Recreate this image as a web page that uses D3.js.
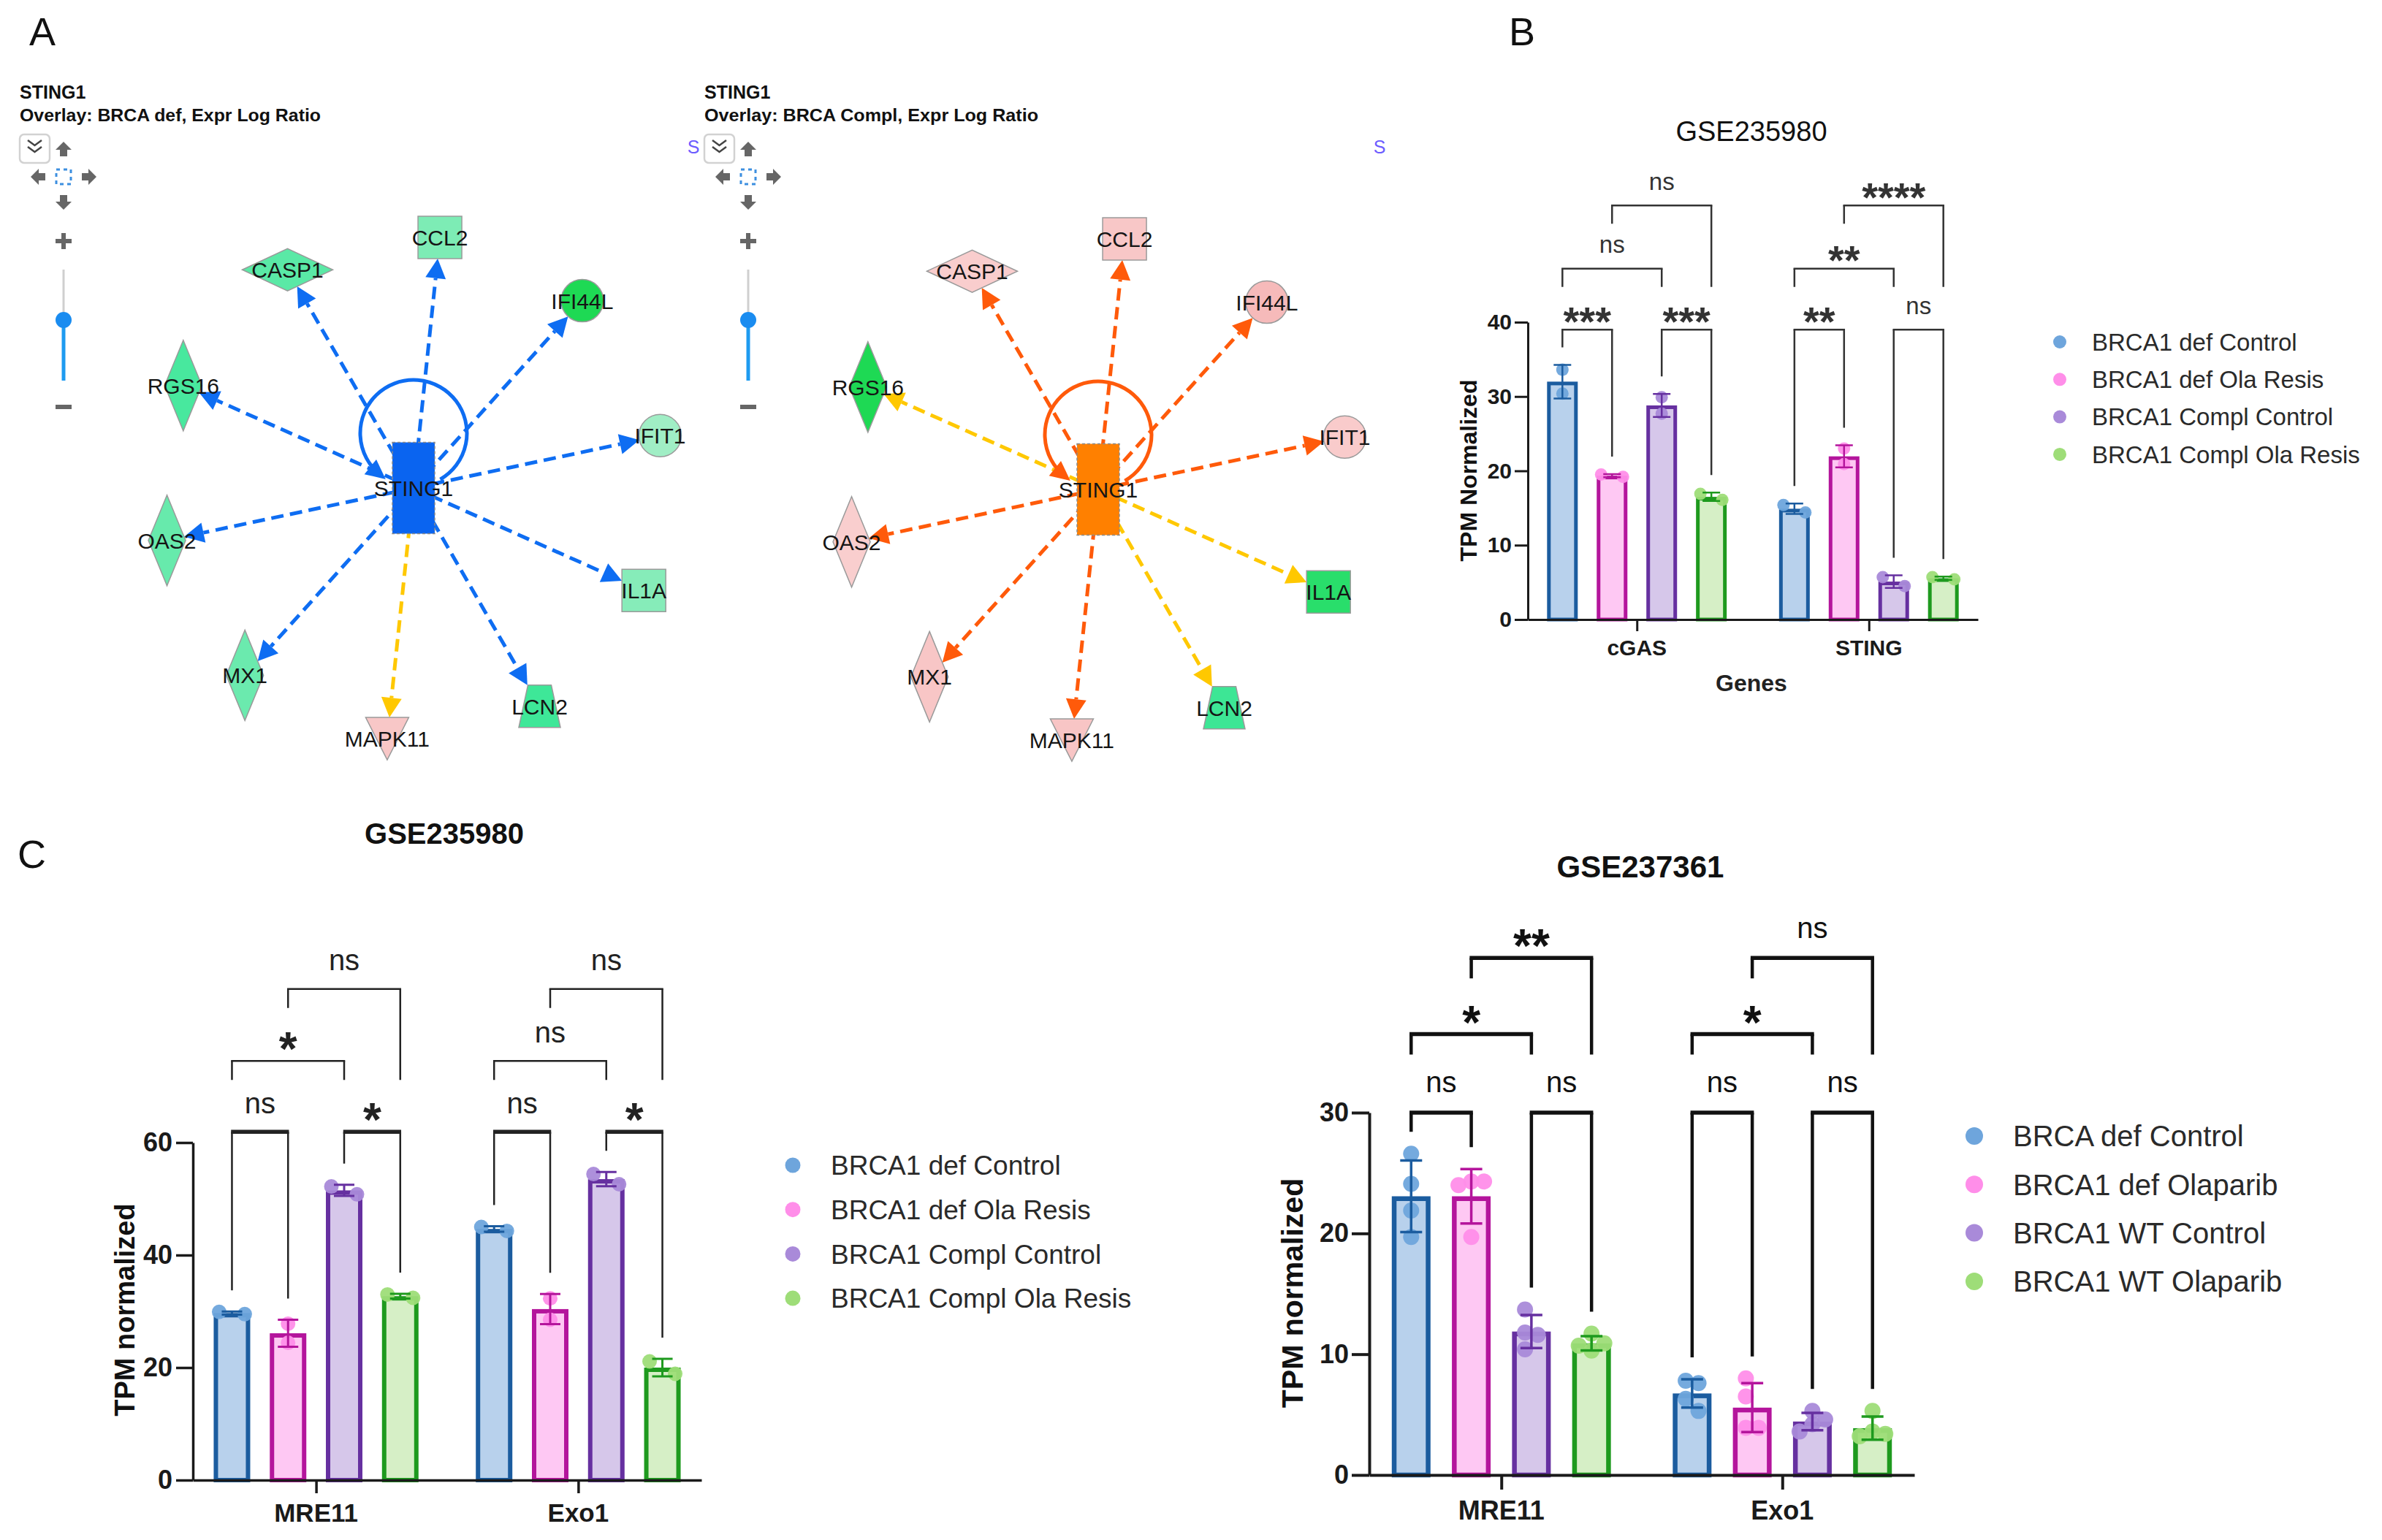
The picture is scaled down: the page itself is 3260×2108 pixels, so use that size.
<!DOCTYPE html>
<html>
<head>
<meta charset="utf-8">
<script src="https://cdn.jsdelivr.net/npm/d3@7/dist/d3.min.js"></script>
<style>
html,body{margin:0;padding:0;background:#fff;}
svg{display:block;}
</style>
</head>
<body>
<svg id="fig" width="3260" height="2108" xmlns="http://www.w3.org/2000/svg"></svg>
<script>
// ================= DATA =================
// Panel A : STING1 network (targets clockwise, starting from IFIT1)
const netHub = "STING1";
const netTargets = ["IFIT1","IL1A","LCN2","MAPK11","MX1","OAS2","RGS16","CASP1","CCL2","IFI44L"];
const netShapes  = ["circle","square","trapezoid","triangle","diamondV","diamondV","diamondV","diamondH","square","circle"];
const netTitles   = ["STING1","STING1"];
const netOverlays = ["Overlay: BRCA def, Expr Log Ratio","Overlay: BRCA Compl, Expr Log Ratio"];
const netHubState = [-1, 1];                 // -1 predicted inhibited, +1 predicted activated
const defLogRatio   = [-0.4,-0.7,-1.55, 0.9,-1.0,-1.05,-1.4,-1.2,-0.8,-3.0];
const complLogRatio = [ 0.7,-2.5,-1.6, 1.0, 0.95, 0.5,-3.0, 0.6, 0.9, 1.6];

// Panel B : GSE235980 cGAS / STING
const bSeries = ["BRCA1 def Control","BRCA1 def Ola Resis","BRCA1 Compl Control","BRCA1 Compl Ola Resis"];
const bGenes  = ["cGAS","STING"];
const bCgas   = [[33.6,30.4],[19.5,19.2],[29.9,27.7],[16.1,16.9]];
const bSting  = [[14.4,15.4],[23.0,20.9],[4.5,5.7],[5.4,5.7]];
const bTicks  = [0,10,20,30,40];
const bLevels = [39.0, 47.2, 55.7];
const bSig = [
  {g:0,a:0,b:1,lvl:0,label:"***"},{g:0,a:2,b:3,lvl:0,label:"***"},
  {g:0,a:0,b:2,lvl:1,label:"ns"}, {g:0,a:1,b:3,lvl:2,label:"ns"},
  {g:1,a:0,b:1,lvl:0,label:"**"}, {g:1,a:2,b:3,lvl:0,label:"ns"},
  {g:1,a:0,b:2,lvl:1,label:"**"}, {g:1,a:1,b:3,lvl:2,label:"****"}
];

// Panel C left : GSE235980 MRE11 / Exo1
const cSeries = ["BRCA1 def Control","BRCA1 def Ola Resis","BRCA1 Compl Control","BRCA1 Compl Ola Resis"];
const cGenes  = ["MRE11","Exo1"];
const cMre11  = [[29.9,29.5],[27.8,24.4],[50.8,52.2],[32.4,33.0]];
const cExo1   = [[44.3,45.0],[32.3,28.5],[52.6,54.4],[18.9,21.1]];
const cTicks  = [0,20,40,60];
const cLevels = [61.9, 74.5, 87.3];
const cSig = [
  {g:0,a:0,b:1,lvl:0,label:"ns"},{g:0,a:2,b:3,lvl:0,label:"*"},
  {g:0,a:0,b:2,lvl:1,label:"*"}, {g:0,a:1,b:3,lvl:2,label:"ns"},
  {g:1,a:0,b:1,lvl:0,label:"ns"},{g:1,a:2,b:3,lvl:0,label:"*"},
  {g:1,a:0,b:2,lvl:1,label:"ns"},{g:1,a:1,b:3,lvl:2,label:"ns"}
];

// Panel C right : GSE237361 MRE11 / Exo1
const dSeries = ["BRCA def Control","BRCA1 def Olaparib","BRCA1 WT Control","BRCA1 WT Olaparib"];
const dGenes  = ["MRE11","Exo1"];
const dMre11  = [[26.6,24.1,21.9,19.7],[24.3,24.3,24.0,19.7],[13.7,11.8,11.6,10.4],[11.7,10.9,10.7,10.3]];
const dExo1   = [[7.8,7.6,6.3,5.3],[8.0,6.5,3.9,3.9],[5.3,4.6,4.2,3.6],[5.3,3.6,3.4,3.2]];
const dTicks  = [0,10,20,30];
const dLevels = [30.0, 36.5, 42.8];
const dSig = [
  {g:0,a:0,b:1,lvl:0,label:"ns"},{g:0,a:2,b:3,lvl:0,label:"ns"},
  {g:0,a:0,b:2,lvl:1,label:"*"}, {g:0,a:1,b:3,lvl:2,label:"**"},
  {g:1,a:0,b:1,lvl:0,label:"ns"},{g:1,a:2,b:3,lvl:0,label:"ns"},
  {g:1,a:0,b:2,lvl:1,label:"*"}, {g:1,a:1,b:3,lvl:2,label:"ns"}
];

// ================= STYLE =================
const FONT = "'Liberation Sans', Arial, Helvetica, sans-serif";
const STROKE = ["#1b5c9f","#b4159c","#6630a0","#1e9a1e"];
const FILL   = ["#b8d1ec","#fec8f3","#d6c7ea","#d6efc6"];
const DOT    = ["#6ea5dc","#ff8ee9","#a98ad9","#9edd78"];

const svg = d3.select("#fig");
svg.append("rect").attr("width",3260).attr("height",2108).attr("fill","#fff");

// panel letters
[["A",40,62],["B",2065,62],["C",24,1188]].forEach(([t,x,y])=>{
  svg.append("text").attr("x",x).attr("y",y).text(t)
    .attr("font-family",FONT).attr("font-size",54).attr("fill","#111");
});

// ================= NETWORK =================
const ratioColor = d3.scaleLinear()
  .domain([-3,-1.5,-0.3,0.3,2])
  .range(["#1ed954","#3fe79a","#a9efc9","#fad2d2","#f5b3b3"]).clamp(true);
const hubColor  = d3.scaleOrdinal().domain([-1,1]).range(["#0a64f0","#ff8000"]);
const edgeColor = d3.scaleOrdinal().domain(["inhib","activ","incons"]).range(["#0e6df2","#ff5a0a","#ffc800"]);

const SHAPE = {
  circle:   {path:"M29,0A29,29 0 1,1 -29,0A29,29 0 1,1 29,0Z", hit:(ax,ay)=>29/Math.hypot(ax,ay)},
  square:   {path:"M-30,-29H30V29H-30Z", hit:(ax,ay)=>Math.min(30/ax,29/ay)},
  trapezoid:{path:"M-16,-29H16L28.5,29H-28.5Z", hit:(ax,ay)=>Math.min(22/ax,29/ay)},
  triangle: {path:"M-29.5,-29H29.5L0,29Z", hit:(ax,ay)=>Math.min(20/ax,29/ay)},
  diamondV: {path:"M0,-62L25.5,0L0,62L-25.5,0Z", hit:(ax,ay)=>1/(ax/25.5+ay/62)},
  diamondH: {path:"M-62,0L0,-29L62,0L0,29Z", hit:(ax,ay)=>1/(ax/62+ay/29)}
};

function drawControls(ox, withS){
  const c = svg.append("g").attr("transform",`translate(${ox},0)`);
  c.append("rect").attr("x",27).attr("y",184).attr("width",41).attr("height",39).attr("rx",6)
    .attr("fill","#fff").attr("stroke","#d2d2d2").attr("stroke-width",2.5);
  c.append("path").attr("d","M38,192 L47.5,199 L57,192 M38,201 L47.5,208 L57,201")
    .attr("fill","none").attr("stroke","#444").attr("stroke-width",2.5);
  const arrow = "M0,-11 L11,0 L5,0 L5,9 L-5,9 L-5,0 L-11,0 Z";
  [[87,205,0],[121,242,90],[87,276,180],[53,242,270]].forEach(([x,y,r])=>{
    c.append("path").attr("d",arrow).attr("transform",`translate(${x},${y}) rotate(${r})`).attr("fill","#666");
  });
  c.append("rect").attr("x",77).attr("y",232).attr("width",20).attr("height",20)
    .attr("fill","none").attr("stroke","#3d8fe0").attr("stroke-width",3).attr("stroke-dasharray","5,5");
  c.append("path").attr("d","M76,330H98M87,319V341").attr("stroke","#666").attr("stroke-width",6);
  c.append("line").attr("x1",87).attr("x2",87).attr("y1",369).attr("y2",430).attr("stroke","#cfcfcf").attr("stroke-width",3);
  c.append("line").attr("x1",87).attr("x2",87).attr("y1",438).attr("y2",521).attr("stroke","#1e9bf0").attr("stroke-width",5);
  c.append("circle").attr("cx",87).attr("cy",438).attr("r",11).attr("fill","#1a8cf0");
  c.append("path").attr("d","M76,557H98").attr("stroke","#666").attr("stroke-width",6);
  if (withS){
    [[12,210],[951,210]].forEach(([x,y])=>{
      c.append("text").attr("x",x).attr("y",y).attr("text-anchor","middle").text("S")
       .attr("font-family",FONT).attr("font-size",25).attr("fill","#6c5cff");
    });
  }
}

function drawNetwork(ox, hx, hy, idx, ratios){
  const g = svg.append("g");
  const state = netHubState[idx];
  // titles
  g.append("text").attr("x",27+ox).attr("y",135).text(netTitles[idx])
    .attr("font-family",FONT).attr("font-weight","bold").attr("font-size",25).attr("fill","#111");
  g.append("text").attr("x",27+ox).attr("y",166).text(netOverlays[idx])
    .attr("font-family",FONT).attr("font-weight","bold").attr("font-size",24).attr("fill","#111")
    .attr("textLength", idx===0?412:457).attr("lengthAdjust","spacingAndGlyphs");
  drawControls(ox, idx===1);

  const ang = d3.scaleLinear().domain([0, netTargets.length]).range([-12, 348]);
  const rad = d3.scaleLinear().domain([0,1]).range([0,345]);
  const nodes = netTargets.map((name,i)=>{
    const a = ang(i)*Math.PI/180;
    return {name, shape:netShapes[i], v:ratios[i], x:hx+rad(1)*Math.cos(a), y:hy+rad(1)*Math.sin(a)};
  });
  const arrowLen = 27, arrowHW = 14;
  // edges
  nodes.forEach(n=>{
    const dx = n.x-hx, dy = n.y-hy, L = Math.hypot(dx,dy);
    const t = SHAPE[n.shape].hit(Math.abs(dx),Math.abs(dy));
    const tip = [n.x-dx*t, n.y-dy*t];
    const ux = dx/L, uy = dy/L;
    const base = [tip[0]-ux*arrowLen, tip[1]-uy*arrowLen];
    const kind = (state*n.v>0) ? (state<0?"inhib":"activ") : "incons";
    const col = edgeColor(kind);
    g.append("line").attr("x1",hx).attr("y1",hy).attr("x2",base[0]).attr("y2",base[1])
      .attr("stroke",col).attr("stroke-width",5).attr("stroke-dasharray","17,9");
    g.append("path").attr("d",`M${tip[0]},${tip[1]}L${base[0]-uy*arrowHW},${base[1]+ux*arrowHW}L${base[0]+uy*arrowHW},${base[1]-ux*arrowHW}Z`)
      .attr("fill",col);
  });
  // self loop
  const loopCol = edgeColor(state<0?"inhib":"activ");
  const lc=[hx,hy-75], lr=73, a0=60*Math.PI/180, a1=129*Math.PI/180;
  const p = d3.path();
  p.moveTo(lc[0]+lr*Math.cos(a0), lc[1]+lr*Math.sin(a0));
  p.arc(lc[0],lc[1],lr,a0,a1,true);
  g.append("path").attr("d",p.toString()).attr("fill","none").attr("stroke",loopCol).attr("stroke-width",5);
  const E=[lc[0]+lr*Math.cos(a1), lc[1]+lr*Math.sin(a1)], u=[Math.sin(a1),-Math.cos(a1)];
  const tp=[E[0]+u[0]*10,E[1]+u[1]*10], bs=[E[0]-u[0]*17,E[1]-u[1]*17];
  g.append("path").attr("d",`M${tp[0]},${tp[1]}L${bs[0]-u[1]*13},${bs[1]+u[0]*13}L${bs[0]+u[1]*13},${bs[1]-u[0]*13}Z`).attr("fill",loopCol);
  // target nodes
  nodes.forEach(n=>{
    g.append("path").attr("d",SHAPE[n.shape].path).attr("transform",`translate(${n.x},${n.y})`)
      .attr("fill",ratioColor(n.v)).attr("stroke","#9a9a9a").attr("stroke-width",1.5);
  });
  // hub
  g.append("rect").attr("x",hx-29).attr("y",hy-62.5).attr("width",58).attr("height",125)
    .attr("fill",hubColor(state)).attr("stroke","#8a8a8a").attr("stroke-width",1.5).attr("stroke-dasharray","4,3");
  // labels
  nodes.concat([{name:netHub,x:hx,y:hy}]).forEach(n=>{
    g.append("text").attr("x",n.x).attr("y",n.y+11).attr("text-anchor","middle").text(n.name)
      .attr("font-family",FONT).attr("font-size",30).attr("fill","#151515");
  });
}

drawNetwork(0, 566, 668, 0, defLogRatio);
drawNetwork(937, 1503, 670, 1, complLogRatio);

// ================= BAR CHARTS =================
function swarm(vals, y, step, thresh){
  const order = d3.range(vals.length).sort((a,b)=>vals[b]-vals[a]);
  const placed=[], off=new Array(vals.length);
  const cands=[0,step,-step,2*step,-2*step];
  order.forEach(i=>{
    const py=y(vals[i]);
    let best=null, bestD=-1;
    for(const c of cands){
      const md = placed.length? d3.min(placed,p=>Math.hypot(p.x-c,p.y-py)) : Infinity;
      if(md>=thresh){best=c;break;}
      if(md>bestD){bestD=md;best=c;}
    }
    off[i]=best; placed.push({x:best,y:py});
  });
  const ext=d3.extent(off), sh=(ext[0]+ext[1])/2;
  return off.map(o=>o-sh);
}

function drawBarChart(cfg, genes, seriesNames, values, ticks, sigs, levels){
  const g = svg.append("g");
  const y = d3.scaleLinear().domain([0,d3.max(ticks)]).range([cfg.y0,cfg.yTop]);
  const x = d3.scalePoint().domain(genes).range([cfg.xL,cfg.xR]).padding(0.47);
  const subStep = x.step()*0.214;
  const sub = d3.scaleLinear().domain([0,seriesNames.length-1]).range([-1.5*subStep,1.5*subStep]);

  const stats = [];
  genes.forEach((gn,gi)=>values[gi].forEach((pts,si)=>{
    const m=d3.mean(pts), sd=d3.deviation(pts);
    stats.push({gi,si,cx:x(gn)+sub(si),m,sd,pts,top:Math.max(d3.max(pts),m+sd)});
  }));
  const statOf=(gi,si)=>stats.find(s=>s.gi===gi&&s.si===si);

  // bars
  stats.forEach(s=>{
    const sw=cfg.barStroke;
    g.append("rect").attr("x",s.cx-cfg.barW/2+sw/2).attr("y",y(s.m)+sw/2)
      .attr("width",cfg.barW-sw).attr("height",cfg.y0-y(s.m)-sw/2)
      .attr("fill",FILL[s.si]).attr("stroke",STROKE[s.si]).attr("stroke-width",sw);
  });
  // points
  stats.forEach(s=>{
    const offs=swarm(s.pts,y,cfg.swarmStep,cfg.swarmThresh);
    s.pts.forEach((v,k)=>{
      g.append("circle").attr("cx",s.cx+offs[k]).attr("cy",y(v)).attr("r",cfg.dotR)
        .attr("fill",DOT[s.si]).attr("fill-opacity",0.95);
    });
  });
  // error bars (mean ± SD)
  stats.forEach(s=>{
    const col=STROKE[s.si], hi=y(s.m+s.sd), lo=y(s.m-s.sd), cw=cfg.capW/2;
    g.append("path").attr("d",`M${s.cx},${lo}V${hi}M${s.cx-cw},${hi}H${s.cx+cw}M${s.cx-cw},${lo}H${s.cx+cw}`)
      .attr("stroke",col).attr("stroke-width",cfg.errW).attr("fill","none");
  });
  // y axis
  const ya = g.append("g").attr("transform",`translate(${cfg.xL},0)`)
    .call(d3.axisLeft(y).tickValues(ticks).tickSize(cfg.tickLen).tickSizeOuter(0).tickPadding(cfg.tickPad));
  ya.attr("color","#1a1a1a");
  ya.selectAll("path,line").attr("stroke-width",cfg.axisW);
  ya.selectAll("text").attr("font-family",FONT).attr("font-size",cfg.tickFont).attr("font-weight","bold").attr("fill","#1a1a1a");
  // x axis
  const xa = g.append("g").attr("transform",`translate(0,${cfg.y0})`)
    .call(d3.axisBottom(x).tickSize(cfg.catTick).tickSizeOuter(0).tickFormat(""));
  xa.attr("color","#1a1a1a");
  xa.selectAll("path,line").attr("stroke-width",cfg.axisW);
  genes.forEach(gn=>{
    g.append("text").attr("x",x(gn)).attr("y",cfg.y0+cfg.catDy).attr("text-anchor","middle").text(gn)
      .attr("font-family",FONT).attr("font-weight","bold").attr("font-size",cfg.catFont).attr("fill","#1a1a1a");
  });
  // axis titles
  g.append("text").attr("transform",`translate(${cfg.yLabelX},${cfg.yLabelY}) rotate(-90)`)
    .attr("text-anchor","middle").text(cfg.yLabel)
    .attr("font-family",FONT).attr("font-weight","bold").attr("font-size",cfg.yLabelFont).attr("fill","#111");
  if(cfg.xLabel){
    g.append("text").attr("x",cfg.xLabelX).attr("y",cfg.xLabelY).attr("text-anchor","middle").text(cfg.xLabel)
      .attr("font-family",FONT).attr("font-weight","bold").attr("font-size",cfg.xLabelFont).attr("fill","#222");
  }
  // title
  g.append("text").attr("x",cfg.titleX).attr("y",cfg.titleY).attr("text-anchor","middle").text(cfg.title)
    .attr("font-family",FONT).attr("font-weight",cfg.titleWeight).attr("font-size",cfg.titleFont).attr("fill","#111");

  // significance brackets
  sigs.forEach(sg=>{
    const gx=x(genes[sg.g]);
    const xa_=gx+sub(sg.a), xb_=gx+sub(sg.b), yb=y(levels[sg.lvl]);
    let ya_, yb2;
    if(sg.lvl===0){ ya_=y(statOf(sg.g,sg.a).top)-cfg.legGap; yb2=y(statOf(sg.g,sg.b).top)-cfg.legGap; }
    else if(sg.lvl===1){ ya_=yb2=yb+cfg.legDrop; }
    else { ya_=yb+cfg.legDrop; yb2=y(levels[1])+cfg.legDrop; }
    g.append("path").attr("d",`M${xa_},${ya_}V${yb}M${xb_},${yb}V${yb2}`)
      .attr("stroke",cfg.brColor).attr("stroke-width",cfg.brW).attr("fill","none");
    g.append("line").attr("x1",xa_-cfg.brW/2).attr("x2",xb_+cfg.brW/2).attr("y1",yb).attr("y2",yb)
      .attr("stroke",cfg.brColor).attr("stroke-width",cfg.brTopW[sg.lvl]);
    const isStar = sg.label.indexOf("*")>=0;
    const fs = isStar?cfg.starFont:cfg.nsFont;
    const cy = isStar ? yb-cfg.starDy : yb-cfg.nsDy;
    const base = isStar ? cy+0.58*fs : cy+0.26*fs;
    g.append("text").attr("x",(xa_+xb_)/2).attr("y",base).attr("text-anchor","middle").text(sg.label)
      .attr("font-family",FONT).attr("font-weight",isStar?"bold":"normal").attr("font-size",fs).attr("fill",cfg.brColor);
  });

  // legend
  seriesNames.forEach((nm,i)=>{
    const ly=cfg.legY+i*cfg.legDy;
    g.append("circle").attr("cx",cfg.legX).attr("cy",ly).attr("r",cfg.legR).attr("fill",DOT[i]);
    g.append("text").attr("x",cfg.legX+cfg.legTx).attr("y",ly+0.36*cfg.legFont).text(nm)
      .attr("font-family",FONT).attr("font-size",cfg.legFont).attr("fill","#2a2a2a");
  });
}

drawBarChart({
  xL:2091,xR:2707,y0:848,yTop:441,barW:42,barStroke:5,axisW:3,tickLen:18,tickPad:4,tickFont:30,
  catTick:16,catDy:49,catFont:30,
  yLabel:"TPM Normalized",yLabelX:2021,yLabelY:644,yLabelFont:32,
  xLabel:"Genes",xLabelX:2397,xLabelY:946,xLabelFont:32,
  title:"GSE235980",titleX:2397,titleY:193,titleFont:38,titleWeight:"normal",
  dotR:8.5,swarmStep:30,swarmThresh:17,capW:24,errW:2.5,
  brColor:"#333",brW:2.5,brTopW:[2.5,2.5,2.5],legGap:24,legDrop:25,
  nsFont:33,starFont:56,nsDy:30,starDy:25,
  legX:2819,legY:468,legDy:51.3,legR:9,legFont:33,legTx:44
}, bGenes, bSeries, [bCgas,bSting], bTicks, bSig, bLevels);

drawBarChart({
  xL:264,xR:960,y0:2026,yTop:1564,barW:50,barStroke:6,axisW:3.5,tickLen:23,tickPad:5,tickFont:36,
  catTick:18,catDy:57,catFont:35,
  yLabel:"TPM normalized",yLabelX:184,yLabelY:1793,yLabelFont:38,
  title:"GSE235980",titleX:608,titleY:1155,titleFont:40,titleWeight:"bold",
  dotR:10,swarmStep:35,swarmThresh:20,capW:28,errW:3,
  brColor:"#222",brW:2.5,brTopW:[5.5,2.5,2.5],legGap:29,legDrop:26,
  nsFont:40,starFont:64,nsDy:36,starDy:31,
  legX:1085,legY:1595,legDy:60.7,legR:10.5,legFont:37,legTx:52
}, cGenes, cSeries, [cMre11,cExo1], cTicks, cSig, cLevels);

drawBarChart({
  xL:1874,xR:2620,y0:2019,yTop:1523,barW:53,barStroke:6.5,axisW:4,tickLen:24,tickPad:4,tickFont:36,
  catTick:20,catDy:61,catFont:36,
  yLabel:"TPM normalized",yLabelX:1783,yLabelY:1770,yLabelFont:41,
  title:"GSE237361",titleX:2245,titleY:1201,titleFont:42,titleWeight:"bold",
  dotR:11,swarmStep:17.5,swarmThresh:17,capW:30,errW:3.5,
  brColor:"#111",brW:4.5,brTopW:[5.5,5.5,5.5],legGap:30,legDrop:28,
  nsFont:40,starFont:64,nsDy:38,starDy:31,
  legX:2702,legY:1555,legDy:66.3,legR:12,legFont:40,legTx:53
}, dGenes, dSeries, [dMre11,dExo1], dTicks, dSig, dLevels);
</script>
</body>
</html>
